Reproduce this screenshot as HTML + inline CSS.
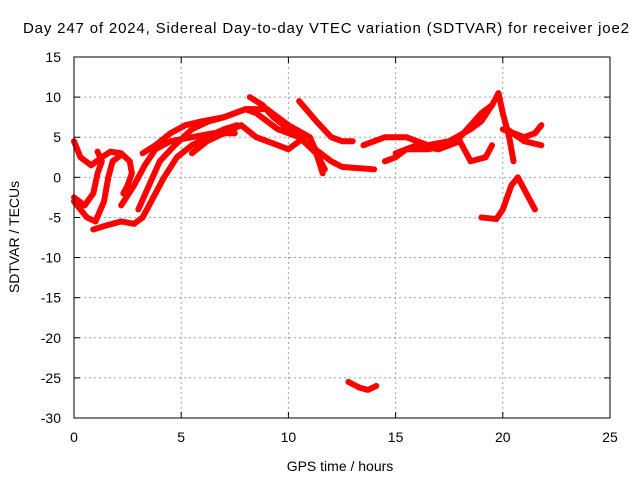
<!DOCTYPE html>
<html><head><meta charset="utf-8"><style>
body{margin:0;background:#fff;}
svg{display:block;font-family:"Liberation Sans",sans-serif;}
</style></head><body>
<svg id="chart" width="640" height="480">
<rect width="640" height="480" fill="#fff"/>
<text x="326" y="33" font-size="15" text-anchor="middle" textLength="606">Day 247 of 2024, Sidereal Day-to-day VTEC variation (SDTVAR) for receiver joe2</text>
<g id="grid"></g>
<g id="series"></g>
<g id="axes"></g>
<text x="340" y="471" font-size="14" text-anchor="middle">GPS time / hours</text>
<text transform="translate(19,237) rotate(-90)" font-size="14" text-anchor="middle">SDTVAR / TECUs</text>
</svg>
<script>
const xTicks=[0,5,10,15,20,25];
const yTicks=[15,10,5,0,-5,-10,-15,-20,-25,-30];
const track1=[[0,4.5],[0.3,2.5],[0.8,1.5],[1.3,2.5],[1.7,3.2],[2.2,3],[2.6,2],[2.7,0.5],[2.5,-1],[2.3,-2]];
const track2=[[0,-3],[0.3,-4],[0.6,-5],[1,-5.5],[1.4,-3],[1.6,0],[1.8,2],[2.2,2.8]];
const track3=[[0.9,-6.5],[1.5,-6],[2.2,-5.5],[2.8,-5.8],[3.2,-5],[3.6,-3],[4.2,0],[4.8,2.5],[5.5,4],[6.2,5],[7,6],[7.6,6.5]];
const track4=[[0,-2.5],[0.5,-3.5],[0.9,-2],[1.1,0.5],[1.3,2],[1.1,3.2]];
const track5=[[2.2,-3.5],[2.8,-1],[3.3,1.5],[3.8,3.5],[4.5,4.5],[5.5,5],[6.5,5.5],[7.5,5.5]];
const track6=[[3,-4],[3.5,-1],[4,2],[4.7,4],[5.5,6],[6.3,7],[7,7.5],[8,8.5],[9,8.5],[10,6.5],[11,5],[11.5,2],[11.7,1]];
const track7=[[3.2,3],[3.8,4],[4.5,5.5],[5.2,6.5],[6,7],[7,7.5],[8,8.5],[8.5,8],[9.5,6],[10.5,5],[11.3,3],[11.6,0.5]];
const track8=[[5.5,3],[6.2,4.5],[7,5.5],[7.8,6.5],[8.5,5],[9,4.5],[9.5,4],[10,3.5],[10.5,4.5]];
const track9=[[8.2,10],[8.8,9],[9.3,7.5],[10,6],[10.5,5],[11,4],[11.5,3]];
const track10=[[10.5,9.5],[11.3,7],[12,5],[12.5,4.5],[13,4.5]];
const track11=[[11,4],[12,2],[12.5,1.3],[13,1.2],[14,1]];
const track12=[[13.5,4],[14.5,5],[15.5,5],[16.5,4],[17.5,4.5],[18.5,6],[19,7],[19.5,9],[19.8,10.5],[20,8],[20.3,5],[20.5,2]];
const track13=[[14.5,2],[15,2.5],[15.5,3.5],[16.5,3.5],[17.5,4],[18,5],[19,8],[19.5,9]];
const track14=[[15,3],[16,4],[17,3.5],[18,4.5],[18.5,2],[19.2,2.5],[19.5,4]];
const track15=[[20,6],[20.5,5.5],[21,5],[21.5,5.5],[21.8,6.5]];
const track16=[[20.2,6],[21,4.5],[21.8,4]];
const track17=[[19,-5],[19.7,-5.2],[20,-4],[20.4,-1],[20.7,0],[21,-1.5],[21.5,-4]];
const track18=[[12.8,-25.5],[13.3,-26.2],[13.7,-26.5],[14.1,-26]];
const tracks=[track1,track2,track3,track4,track5,track6,track7,track8,track9,track10,track11,track12,track13,track14,track15,track16,track17,track18];

const L=74,R=610,T=57,B=418,xMin=0,xMax=25,yMin=-30,yMax=15;
const sx=v=>L+(v-xMin)/(xMax-xMin)*(R-L);
const sy=v=>B-(v-yMin)/(yMax-yMin)*(B-T);
const NS="http://www.w3.org/2000/svg";
function mk(tag,attrs,parent){const e=document.createElementNS(NS,tag);for(const k in attrs)e.setAttribute(k,attrs[k]);parent.appendChild(e);return e;}
const grid=document.getElementById('grid'),axes=document.getElementById('axes'),series=document.getElementById('series');
xTicks.forEach(t=>{
  const x=sx(t);
  if(t>xMin&&t<xMax){const g=mk('line',{x1:x,x2:x,y1:T,y2:B,stroke:'#a0a0a0','stroke-dasharray':'2,3'},grid);
  
  }
  mk('line',{x1:x,x2:x,y1:B,y2:B-6,stroke:'#000'},axes);
  mk('line',{x1:x,x2:x,y1:T,y2:T+6,stroke:'#000'},axes);
  const lb=mk('text',{x:x,y:B+24,'font-size':14,'text-anchor':'middle'},axes);
  lb.textContent=t;
  
  
});
yTicks.forEach(t=>{
  const y=sy(t);
  if(t>yMin&&t<yMax){const g=mk('line',{x1:L,x2:R,y1:y,y2:y,stroke:'#a0a0a0','stroke-dasharray':'2,3'},grid);
  
  }
  mk('line',{x1:L,x2:L+6,y1:y,y2:y,stroke:'#000'},axes);
  mk('line',{x1:R,x2:R-6,y1:y,y2:y,stroke:'#000'},axes);
  const lb=mk('text',{x:L-13,y:y+5,'font-size':14,'text-anchor':'end'},axes);
  lb.textContent=t;
  
  
});
const border=mk('rect',{x:L,y:T,width:R-L,height:B-T,fill:'none',stroke:'#000'},axes);


tracks.forEach(tr=>{
  const p=mk('polyline',{points:tr.map(d=>sx(d[0])+','+sy(d[1])).join(' '),fill:'none',stroke:'#f00','stroke-width':6,'stroke-linejoin':'round','stroke-linecap':'round'},series);
  
  
});
</script>
</body></html>
